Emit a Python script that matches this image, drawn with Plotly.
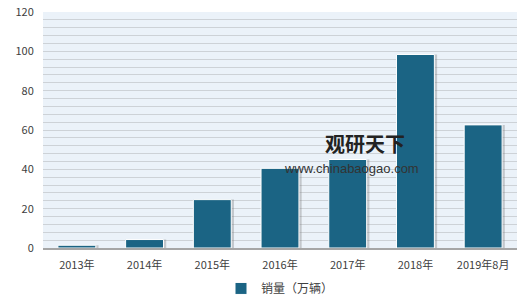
import plotly.graph_objects as go

categories = ["2013年", "2014年", "2015年", "2016年", "2017年", "2018年", "2019年8月"]
sales = [1.4, 4.3, 24.6, 40.5, 45, 98.4, 62.6]
series_name = "销量（万辆）"
y_ticks = [0, 20, 40, 60, 80, 100, 120]

font_family = "Noto Sans CJK SC, Microsoft YaHei, sans-serif"

fig = go.Figure()
# soft shadow behind bars
fig.add_trace(go.Bar(
    x=categories, y=sales, showlegend=False, hoverinfo="skip",
    marker=dict(color="rgba(120,120,120,0.35)", line=dict(width=0)),
    width=0.58, offset=-0.26,
))
fig.add_trace(go.Bar(
    x=categories, y=sales, name=series_name,
    marker=dict(color="#1B6484", line=dict(color="white", width=1)),
    width=0.56, offset=-0.28,
))

fig.add_annotation(text="<b>观研天下</b>", xref="paper", yref="paper",
                   x=0.68, y=0.443, xanchor="center", yanchor="middle", showarrow=False,
                   font=dict(family=font_family, size=20, color="#222222"))
fig.add_annotation(text="www.chinabaogao.com", xref="paper", yref="paper",
                   x=0.65, y=0.335, xanchor="center", yanchor="middle", showarrow=False,
                   font=dict(family="Arial, Liberation Sans, sans-serif", size=13, color="#333333"))

fig.update_layout(
    width=520, height=306,
    margin=dict(l=43, r=3, t=12, b=58, autoexpand=False),
    paper_bgcolor="white",
    plot_bgcolor="#EBF2F9",
    barmode="overlay",
    bargap=0.44,
    font=dict(family=font_family, size=11, color="#404040"),
    legend=dict(orientation="h", x=0.5, xanchor="center", yref="container",
                y=0.01, yanchor="bottom", itemwidth=30,
                bgcolor="white", font=dict(size=12, color="#404040")),
    xaxis=dict(showgrid=False, showline=True, linecolor="#A6A6A6", linewidth=1.5,
               ticks="outside", ticklen=6, tickcolor="rgba(0,0,0,0)",
               tickfont=dict(size=11)),
    yaxis=dict(range=[0, 120], tickvals=y_ticks, showgrid=True, gridcolor="#CDD2D7",
               gridwidth=1, zeroline=False, ticks="outside", ticklen=6,
               tickcolor="rgba(0,0,0,0)", tickfont=dict(size=11),
               minor=dict(dtick=4, showgrid=True, gridcolor="#CDD2D7", gridwidth=1)),
)

fig.write_html("out.html")
